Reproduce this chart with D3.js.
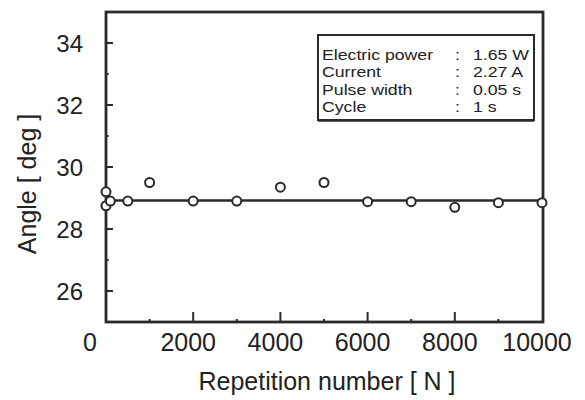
<!DOCTYPE html>
<html>
<head>
<meta charset="utf-8">
<script src="https://cdn.jsdelivr.net/npm/d3@7"></script>
<style>
  body { margin: 0; background: #fff; }
  svg { font-family: "Liberation Sans", Arial, sans-serif; }
  text { fill: #222; }
</style>
</head>
<body>
<svg id="chart" width="585" height="400"></svg>
<script>
// measured points (repetition number vs angle)
const repetitions = [0, 0, 100, 500, 1000, 2000, 3000, 4000, 5000, 6000, 7000, 8000, 9000, 10000];
const angles = [29.2, 28.75, 28.9, 28.9, 29.5, 28.9, 28.9, 29.35, 29.5, 28.88, 28.88, 28.7, 28.85, 28.85];
const meanAngle = 28.92;

const xTicks = [0, 2000, 4000, 6000, 8000, 10000];
const xMinor = [1000, 3000, 5000, 7000, 9000];
const yTicks = [26, 28, 30, 32, 34];
const yMinor = [27, 29, 31, 33];

const legendNames = ["Electric power", "Current", "Pulse width", "Cycle"];
const legendValues = ["1.65 W", "2.27 A", "0.05 s", "1 s"];

const ink = "#2a2a2a";

const svg = d3.select("#chart");

const x = d3.scaleLinear().domain([0, 10000]).range([106, 542]);
const y = d3.scaleLinear().domain([25, 35]).range([322, 12]);

// inner ticks, drawn from the bottom / left edge
const xAxis = svg.append("g").attr("transform", "translate(0,322)");
xAxis.selectAll(".major").data(xTicks.slice(1, -1)).enter().append("line")
    .attr("x1", d => x(d)).attr("x2", d => x(d))
    .attr("y1", 0).attr("y2", -10)
    .attr("stroke", ink).attr("stroke-width", 2);
xAxis.selectAll(".minor").data(xMinor).enter().append("line")
    .attr("x1", d => x(d)).attr("x2", d => x(d))
    .attr("y1", 0).attr("y2", -3)
    .attr("stroke", ink).attr("stroke-width", 2);
xAxis.selectAll("text").data(xTicks).enter().append("text")
    .attr("x", d => x(d) - (d === 0 ? 16 : 5))
    .attr("y", 29)
    .attr("text-anchor", "middle")
    .style("font-size", "25px")
    .text(d => d);

const yAxis = svg.append("g").attr("transform", "translate(106,0)");
yAxis.selectAll(".major").data(yTicks).enter().append("line")
    .attr("x1", 0).attr("x2", 7)
    .attr("y1", d => y(d)).attr("y2", d => y(d))
    .attr("stroke", ink).attr("stroke-width", 2);
yAxis.selectAll(".minor").data(yMinor).enter().append("line")
    .attr("x1", 0).attr("x2", 3)
    .attr("y1", d => y(d)).attr("y2", d => y(d))
    .attr("stroke", ink).attr("stroke-width", 1.5);
yAxis.selectAll("text").data(yTicks).enter().append("text")
    .attr("x", -23)
    .attr("y", d => y(d))
    .attr("dy", "0.36em")
    .attr("text-anchor", "end")
    .style("font-size", "24px")
    .text(d => d);

// frame
svg.append("rect")
    .attr("x", x(0)).attr("y", y(35))
    .attr("width", x(10000) - x(0) + 1)
    .attr("height", y(25) - y(35))
    .attr("fill", "none")
    .attr("stroke", ink)
    .attr("stroke-width", 2.8);

// mean line
svg.append("line")
    .attr("x1", x(0)).attr("x2", x(10000))
    .attr("y1", y(meanAngle)).attr("y2", y(meanAngle))
    .attr("stroke", ink).attr("stroke-width", 2.5);

// points
svg.selectAll(".pt").data(repetitions).enter().append("circle")
    .attr("class", "pt")
    .attr("cx", d => x(d))
    .attr("cy", (d, i) => y(angles[i]))
    .attr("r", 4.5)
    .attr("fill", "#fff")
    .attr("stroke", ink)
    .attr("stroke-width", 2);

// axis titles
svg.append("text")
    .attr("x", 327).attr("y", 390)
    .attr("text-anchor", "middle")
    .style("font-size", "25px")
    .text("Repetition number [ N ]");

svg.append("text")
    .attr("transform", "translate(36,184) rotate(-90)")
    .attr("text-anchor", "middle")
    .style("font-size", "25px")
    .text("Angle [ deg ]");

// legend box
const legend = svg.append("g");
legend.append("rect")
    .attr("x", 318).attr("y", 35)
    .attr("width", 216).attr("height", 85)
    .attr("fill", "#fff")
    .attr("stroke", ink)
    .attr("stroke-width", 2);
legend.append("line")
    .attr("x1", 318).attr("x2", 534)
    .attr("y1", 120.5).attr("y2", 120.5)
    .attr("stroke", ink).attr("stroke-width", 2.5);

const rows = legend.selectAll(".row").data(legendNames).enter().append("g")
    .attr("class", "row")
    .attr("transform", (d, i) => "translate(0," + (60 + i * 17.3) + ")");

function addCol(sel, xpos, fn) {
    sel.append("text")
        .attr("transform", "translate(" + xpos + ",0) scale(1.18,1)")
        .style("font-size", "15px")
        .text(fn);
}
addCol(rows, 322, d => d);
addCol(rows, 455, () => ":");
addCol(rows, 473, (d, i) => legendValues[i]);
</script>
</body>
</html>
